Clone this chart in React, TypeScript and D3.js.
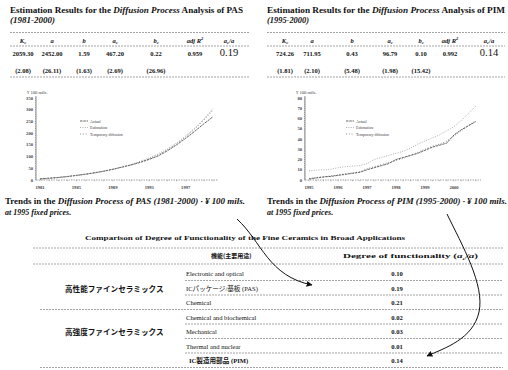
import * as d3 from "d3";

const SERIF = "'Liberation Serif', 'Times New Roman', serif";
const CJK = "'Noto Sans CJK JP', sans-serif";
const INK = "#111";
const RULE = "#666";

// estimation tables
const PAS_ESTIMATES = ["2059.30", "2452.00", "1.59", "467.20", "0.22", "0.959"];
const PAS_RATIO = "0.19";
const PAS_TSTATS = ["(2.08)", "(26.11)", "(1.63)", "(2.69)", "(26.96)"];
const PIM_ESTIMATES = ["724.26", "711.95", "0.43", "96.79", "0.10", "0.992"];
const PIM_RATIO = "0.14";
const PIM_TSTATS = ["(1.81)", "(2.10)", "(5.48)", "(1.98)", "(15.42)"];
const PARAM_KEYS = ["Kc", "a", "b", "ac", "bc", "adjR2", "ratio"];

// PAS trend (¥100 mils, 1995 prices)
const PAS_YEARS = [1981, 1982, 1983, 1984, 1985, 1986, 1987, 1988, 1989, 1990, 1991, 1992, 1993, 1994, 1995, 1996, 1997, 1998, 1999, 2000];
const PAS_ACTUAL = [5, 8, 11, 15, 20, 25, 31, 38, 46, 55, 64, 75, 88, 103, 125, 150, 178, 208, 240, 270];
const PAS_ESTIMATED = [3, 6, 10, 14, 19, 24, 30, 37, 45, 55, 66, 79, 94, 112, 133, 158, 188, 222, 260, 305];
const PAS_TEMPORARY = [4, 7, 10, 14, 19, 24, 30, 37, 45, 55, 65, 77, 91, 108, 129, 154, 184, 218, 256, 298];
const PAS_X_TICKS = [1981, 1985, 1989, 1993, 1997];
const PAS_Y_TICKS = [0, 50, 100, 150, 200, 250, 300, 350];

// PIM trend, quarterly
const PIM_YEARS = [1995, 1996, 1997, 1998, 1999, 2000];
const QUARTERS = [0, 1, 2, 3];
const PIM_ACTUAL = [1, 2, 3, 3.5, 4.5, 5.5, 6.5, 7.5, 10, 12, 14, 16, 20, 22, 24, 26, 29, 32, 34, 36, 44, 49, 53, 57];
const PIM_ESTIMATED = [9, 9.5, 10, 10.5, 12, 13, 13.5, 14, 16, 20, 22, 24, 26, 28, 31, 35, 38, 41, 44, 48, 52, 58, 65, 72];
const PIM_TEMPORARY = [1.5, 2.5, 3, 4, 5, 6, 7, 8, 11, 13, 15, 17, 19, 21, 24, 27, 30, 33, 35, 38, 43, 48, 53, 58];
const PIM_Y_TICKS = [0, 10, 20, 30, 40, 50, 60, 70, 80];

const LEGEND_LABELS = ["Actual", "Estimation", "Temporary diffusion"];

// comparison table
const GROUPS = ["高性能ファインセラミックス", "高強度ファインセラミックス"];
const USES = [
  "Electronic and optical",
  "ICパッケージ/基板 (PAS)",
  "Chemical",
  "Chemical and biochemical",
  "Mechanical",
  "Thermal and nuclear",
  "IC製造用部品 (PIM)",
];
const USE_GROUP = [0, 0, 0, 1, 1, 1, 1];
const DEGREES = [0.10, 0.19, 0.21, 0.02, 0.03, 0.01, 0.14];

const Rule = ({ x1, x2, y }: { x1: number; x2: number; y: number }) => (
  <line x1={x1} x2={x2} y1={y} y2={y} stroke={RULE} strokeWidth={0.6} strokeDasharray="2 1" />
);

const HeaderCell = ({ k, x, y }: { k: string; x: number; y: number }) => {
  const sub = (s: string) => <tspan dy={1.8} fontSize={4.5}>{s}</tspan>;
  let body;
  if (k === "Kc") body = <>K{sub("c")}</>;
  else if (k === "ac") body = <>a{sub("c")}</>;
  else if (k === "bc") body = <>b{sub("c")}</>;
  else if (k === "adjR2") body = <>adj R<tspan dy={-2.5} fontSize={4.5}>2</tspan></>;
  else if (k === "ratio") body = <>a{sub("c")}<tspan dy={-1.8}>/a</tspan></>;
  else body = k;
  return (
    <text x={x} y={y} textAnchor="middle" fontSize={6.5} fontWeight="bold" fontStyle="italic" fill={INK}>
      {body}
    </text>
  );
};

type TableProps = {
  left: number;
  right: number;
  product: string;
  period: string;
  titleWidth: number;
  periodWidth: number;
  cols: number[];
  estimates: string[];
  ratio: string;
  tstats: string[];
};

const EstimationTable = (p: TableProps) => {
  const colX = d3.scaleOrdinal<string, number>().domain(PARAM_KEYS).range(p.cols);
  return (
    <g fill={INK}>
      <text x={p.left} y={13} fontSize={8} fontWeight="bold" textLength={p.titleWidth} lengthAdjust="spacingAndGlyphs">
        Estimation Results for the <tspan fontStyle="italic">Diffusion Process</tspan> Analysis of {p.product}
      </text>
      <text x={p.left} y={22.5} fontSize={8} fontWeight="bold" fontStyle="italic" textLength={p.periodWidth} lengthAdjust="spacingAndGlyphs">
        {p.period}
      </text>
      <Rule x1={p.left} x2={p.right} y={32.5} />
      {PARAM_KEYS.map((k) => <HeaderCell key={k} k={k} x={colX(k)} y={42.5} />)}
      <Rule x1={p.left} x2={p.right} y={46} />
      {p.estimates.map((v, i) => (
        <text key={i} x={colX(PARAM_KEYS[i])} y={55.5} textAnchor="middle" fontSize={6.5} fontWeight="bold">{v}</text>
      ))}
      <text x={colX("ratio")} y={56} textAnchor="middle" fontSize={10.5}>{p.ratio}</text>
      {p.tstats.map((v, i) => (
        <text key={i} x={colX(PARAM_KEYS[i])} y={73} textAnchor="middle" fontSize={6.5} fontWeight="bold">{v}</text>
      ))}
      <Rule x1={p.left} x2={p.right} y={77} />
    </g>
  );
};

const SERIES_STYLE = [
  { stroke: "#222", dash: "2.5 0.8", width: 0.7 },
  { stroke: "#9a9a9a", dash: "1 1.4", width: 0.8 },
  { stroke: "#555", dash: "0.8 2", width: 0.8 },
];

type ChartProps = {
  xs: number[];
  series: number[][];
  xDomain: [number, number];
  xRange: [number, number];
  axisRight: number;
  yMax: number;
  yTicks: number[];
  yMinor: number;
  xTicks: number[];
  xMinor: number[];
  legendX: number;
};

const TrendChart = (p: ChartProps) => {
  const x = d3.scaleLinear().domain(p.xDomain).range(p.xRange);
  const y = d3.scaleLinear().domain([0, p.yMax]).range([180, 98]);
  const axisX = p.xRange[0] - 4;
  const line = d3.line<number>().x((_, i) => x(p.xs[i])).y((d) => y(d));
  const legendY = d3.scalePoint<string>().domain(LEGEND_LABELS).range([121, 134]);
  return (
    <g fontSize={4.6} fill="#444">
      <text x={axisX - 9} y={94}>¥ 100 mils.</text>
      <line x1={axisX} x2={axisX} y1={y(p.yMax) - 2} y2={180} stroke="#444" strokeWidth={0.6} />
      {d3.range(0, p.yMax + 0.01, p.yMinor).map((t) => (
        <line key={t} x1={axisX - 1} x2={axisX} y1={y(t)} y2={y(t)} stroke="#444" strokeWidth={0.4} />
      ))}
      {p.yTicks.map((t) => (
        <text key={t} x={axisX - 3} y={y(t) + 1.6} textAnchor="end" fontWeight="bold">{t}</text>
      ))}
      <line x1={axisX} x2={p.axisRight} y1={180} y2={180} stroke="#666" strokeWidth={0.6} strokeDasharray="1.5 1" />
      {p.xMinor.map((t) => (
        <line key={t} x1={x(t)} x2={x(t)} y1={180} y2={181.2} stroke="#555" strokeWidth={0.4} />
      ))}
      {p.xTicks.map((t) => (
        <text key={t} x={x(t)} y={188.5} textAnchor="middle" fontWeight="bold">{t}</text>
      ))}
      {p.series.map((s, i) => (
        <path key={i} d={line(s) ?? ""} fill="none" stroke={SERIES_STYLE[i].stroke}
          strokeWidth={SERIES_STYLE[i].width} strokeDasharray={SERIES_STYLE[i].dash} />
      ))}
      {LEGEND_LABELS.map((l, i) => (
        <g key={l}>
          <line x1={p.legendX} x2={p.legendX + 8} y1={legendY(l)} y2={legendY(l)} stroke={SERIES_STYLE[i].stroke}
            strokeWidth={SERIES_STYLE[i].width} strokeDasharray={SERIES_STYLE[i].dash} />
          <text x={p.legendX + 10} y={(legendY(l) ?? 0) + 1.5} fontSize={4}>{l}</text>
        </g>
      ))}
    </g>
  );
};

const Caption = ({ x, product, period }: { x: number; product: string; period: string }) => (
  <g fill={INK} fontWeight="bold">
    <text x={x} y={204} fontSize={8} textLength={240} lengthAdjust="spacingAndGlyphs">
      Trends in the <tspan fontStyle="italic">Diffusion Process of {product} {period} · ¥ 100 mils.</tspan>
    </text>
    <text x={x} y={215} fontSize={8} fontStyle="italic">at 1995 fixed prices.</text>
  </g>
);

const ComparisonTable = () => {
  const rowY = d3.scaleLinear().domain([0, USES.length - 1]).range([276, 363]);
  const groupRow = [1, 4];
  return (
    <g fill={INK}>
      <text x={245} y={240} fontSize={7} fontWeight="bold" textAnchor="middle" textLength={320} lengthAdjust="spacingAndGlyphs">
        Comparison of Degree of Functionality of the Fine Ceramics in Broad Applications
      </text>
      <Rule x1={33} x2={503} y={248} />
      <text x={211} y={258} fontSize={6} fontFamily={CJK} fontWeight="bold">機能(主要用途)</text>
      <text x={343} y={258} fontSize={6.8} fontWeight="bold" textLength={135} lengthAdjust="spacingAndGlyphs">
        Degree of functionality (<tspan fontStyle="italic">a</tspan><tspan dy={1.5} fontSize={4.5} fontStyle="italic">c</tspan><tspan dy={-1.5} fontStyle="italic">/a</tspan>)
      </text>
      <Rule x1={33} x2={503} y={264} />
      {GROUPS.map((g, i) => (
        <text key={g} x={65} y={rowY(groupRow[i]) + 1} fontSize={7.6} fontFamily={CJK} fontWeight="bold">{g}</text>
      ))}
      {USES.map((u, i) => {
        const last = i === USES.length - 1 || USE_GROUP[i + 1] !== USE_GROUP[i];
        const bold = i === USES.length - 1;
        return (
          <g key={u}>
            <text x={bold ? 189 : 186} y={rowY(i)} fontSize={6.6} fontWeight={bold ? "bold" : "normal"}
              fontFamily={/[^\x00-\x7f]/.test(u) ? `${SERIF}, ${CJK}` : SERIF}>{u}</text>
            <text x={397} y={rowY(i)} fontSize={6.6} textAnchor="middle" fontWeight="bold">{d3.format(".2f")(DEGREES[i])}</text>
            <Rule x1={last ? 40 : 185} x2={503} y={rowY(i) + 4.5} />
          </g>
        );
      })}
    </g>
  );
};

export default function App() {
  const pimX = d3.cross(PIM_YEARS, QUARTERS).map(([yr, q]) => yr + q / 4);
  return (
    <svg width={508} height={370} style={{ position: "absolute", left: 0, top: 0, background: "#fff" }} fontFamily={SERIF}>
      <defs>
        <marker id="head" viewBox="0 0 10 10" refX={9} refY={5} markerWidth={6} markerHeight={6} orient="auto">
          <path d="M0,0 L10,5 L0,10 z" fill={INK} />
        </marker>
      </defs>
      <EstimationTable left={10} right={250} product="PAS" period="(1981-2000)" titleWidth={233} periodWidth={45}
        cols={[23, 52, 84, 115, 156, 195, 229]} estimates={PAS_ESTIMATES} ratio={PAS_RATIO} tstats={PAS_TSTATS} />
      <EstimationTable left={267} right={505} product="PIM" period="(1995-2000)" titleWidth={238} periodWidth={42}
        cols={[285, 312, 352, 390, 421, 450, 489]} estimates={PIM_ESTIMATES} ratio={PIM_RATIO} tstats={PIM_TSTATS} />

      <TrendChart xs={PAS_YEARS} series={[PAS_ACTUAL, PAS_ESTIMATED, PAS_TEMPORARY]} xDomain={[1981, 2000]}
        xRange={[40, 213]} axisRight={218} yMax={350} yTicks={PAS_Y_TICKS} yMinor={10}
        xTicks={PAS_X_TICKS} xMinor={PAS_YEARS} legendX={80} />
      <TrendChart xs={pimX} series={[PIM_ACTUAL, PIM_ESTIMATED, PIM_TEMPORARY]} xDomain={[1995, 2001]}
        xRange={[309, 483]} axisRight={481} yMax={80} yTicks={PIM_Y_TICKS} yMinor={2}
        xTicks={PIM_YEARS} xMinor={pimX} legendX={346} />

      <Caption x={5} product="PAS" period="(1981-2000)" />
      <Caption x={267} product="PIM" period="(1995-2000)" />

      <ComparisonTable />

      <g fill="none" stroke={INK} strokeWidth={1}>
        <path d="M237,219 C262,242 268,276 312,285" markerEnd="url(#head)" />
        <path d="M447,214 C462,245 485,285 479,312 S445,348 427,356" markerEnd="url(#head)" />
      </g>
    </svg>
  );
}
